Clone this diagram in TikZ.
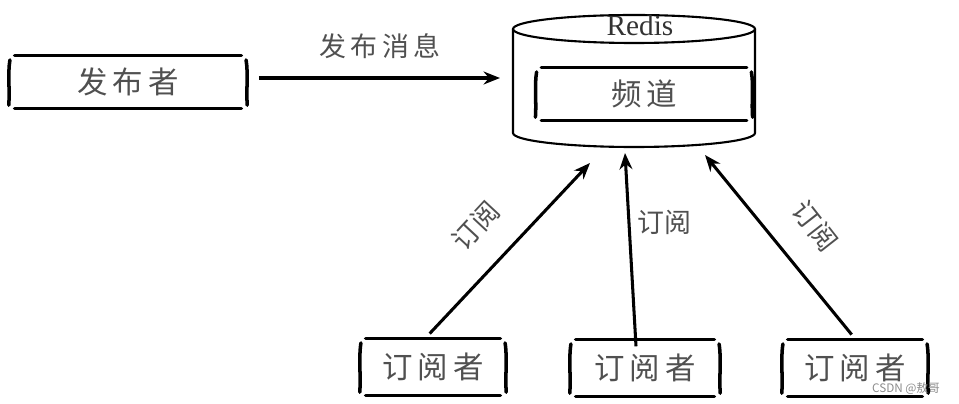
\documentclass[tikz,border=0pt]{standalone}
\usepackage{fontspec}
\setmainfont{Liberation Serif}
\newfontfamily\cjk{Noto Sans CJK SC}[Scale=1]
\usetikzlibrary{arrows.meta}
\definecolor{txt}{HTML}{505050}
\begin{document}
\begin{tikzpicture}[x=0.03cm,y=-0.03cm,
  line/.style={line width=3pt,line cap=round},
  boxtext/.style={font=\cjk\fontsize{26}{30}\selectfont,text=txt},
  arr/.style={line width=2.6pt,-{Stealth[length=14pt,width=11pt]}},
  lab/.style={font=\cjk\fontsize{23}{27}\selectfont,text=txt},
  hbox/.style 2 args={minimum width=#1cm,minimum height=#2cm,inner sep=0pt}]
\useasboundingbox (0,0) rectangle (959,404);
% sketch box helper
\newcommand{\sketchbox}[1]{%
  \draw[line] ([xshift=5pt]#1.north west) -- ([xshift=-5pt]#1.north east);
  \draw[line] ([xshift=5pt]#1.south west) -- ([xshift=-5pt]#1.south east);
  \draw[line] ([xshift=1pt,yshift=-4pt]#1.north west) .. controls ([xshift=-1pt,yshift=-16pt]#1.north west) and ([xshift=1pt,yshift=16pt]#1.south west) .. ([xshift=0pt,yshift=3pt]#1.south west);
  \draw[line] ([xshift=-1pt,yshift=-4pt]#1.north east) .. controls ([xshift=1pt,yshift=-16pt]#1.north east) and ([xshift=-1pt,yshift=16pt]#1.south east) .. ([xshift=0pt,yshift=3pt]#1.south east);
}
% publisher
\node[hbox={7.14}{1.59},boxtext] (pub) at (128,82) {发\,布\,者};
\sketchbox{pub}
% cylinder
\draw[line width=1.8pt,fill=white] (513,29) -- (513,133) arc[start angle=180,end angle=0,x radius=121,y radius=14] -- (755,29);
\draw[line width=1.8pt] (634,29) ellipse[x radius=121,y radius=14];
\node[font=\fontsize{25}{29}\selectfont,text=black!80] (redis) at (640,25) {Redis};
% channel
\node[hbox={6.5}{1.59},boxtext] (chan) at (644,94) {频\,道};
\sketchbox{chan}
% arrow tip coordinates
\coordinate (pt) at (500,78);
\coordinate (t1) at (590,163);
\coordinate (t2) at (625,153);
\coordinate (t3) at (705,155);
% subscribers
\node[hbox={4.38}{1.71},boxtext] (s1) at (433,367) {订\,阅\,者};
\node[hbox={4.5}{1.71},boxtext] (s2) at (645,368) {订\,阅\,者};
\node[hbox={4.38}{1.71},boxtext] (s3) at (855,368) {订\,阅\,者};
\sketchbox{s1}
\sketchbox{s2}
\sketchbox{s3}
% arrows
\draw[arr] ([xshift=10pt]pub.east |- pt) -- (pt);
\node[lab] (pubmsg) at (380,46) {发\,布\,消\,息};
\draw[arr] ([xshift=-0.1cm,yshift=4pt]s1.north) -- (t1);
\draw[arr] ([xshift=-0.27cm,yshift=-6pt]s2.north) -- (t2);
\draw[arr] ([xshift=-0.1cm,yshift=4pt]s3.north) -- (t3);
\node[lab,rotate=47] (l1) at (476,226) {订阅};
\node[lab] (l2) at (664,222) {订阅};
\node[lab,rotate=-52] (l3) at (815,226) {订阅};
% watermark
\node[font=\cjk\fontsize{10}{12}\selectfont,text=black!45] (wm) at (906,389) {CSDN @敖哥};
\end{tikzpicture}
\end{document}
